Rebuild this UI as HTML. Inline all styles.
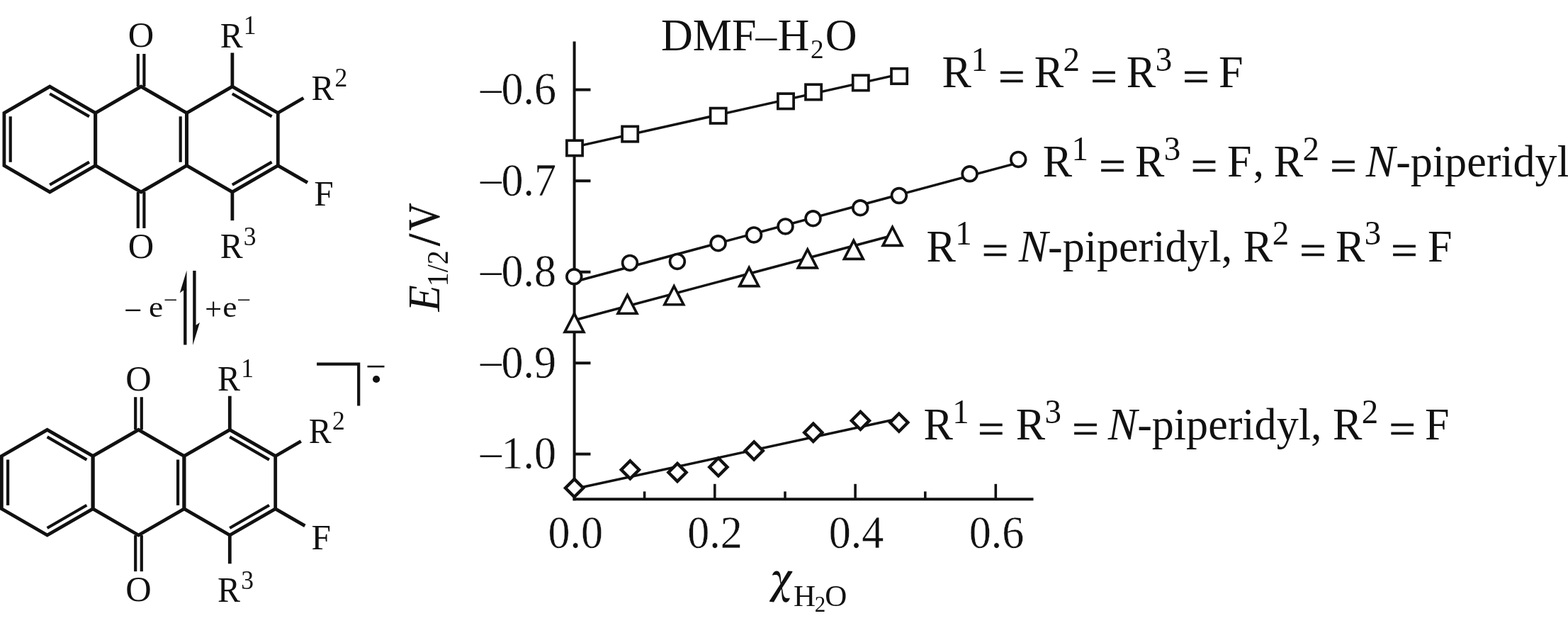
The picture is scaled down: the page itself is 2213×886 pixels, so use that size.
<!DOCTYPE html>
<html lang="en">
<head>
<meta charset="utf-8">
<title>Figure</title>
<style>
html,body{margin:0;padding:0;background:#fff;}
body{width:2213px;height:886px;overflow:hidden;}
svg{display:block;filter:blur(0.5px);}
text{font-family:"Liberation Serif", serif;white-space:pre;}
</style>
</head>
<body>
<svg width="2213" height="886" viewBox="0 0 2213 886" xml:space="preserve" role="img" aria-label="Anthraquinone radical anion equilibrium and plot of E1/2 versus water mole fraction in DMF-H2O">
<rect x="0" y="0" width="2213" height="886" fill="#fff"/>
<g stroke="#111" fill="none" stroke-linejoin="miter" stroke-linecap="butt">
<polygon points="70.30,122.10 134.70,159.30 134.70,233.70 70.30,270.90 5.90,233.70 5.90,159.30" stroke-width="4.8"/>
<polygon points="199.10,122.10 263.50,159.30 263.50,233.70 199.10,270.90 134.70,233.70 134.70,159.30" stroke-width="4.8"/>
<polygon points="327.90,122.10 392.30,159.30 392.30,233.70 327.90,270.90 263.50,233.70 263.50,159.30" stroke-width="4.8"/>
<line x1="70.21" y1="132.21" x2="125.98" y2="164.43" stroke-width="4.2" stroke-linecap="butt"/>
<line x1="125.98" y1="228.57" x2="70.21" y2="260.79" stroke-width="4.2" stroke-linecap="butt"/>
<line x1="14.70" y1="228.72" x2="14.70" y2="164.28" stroke-width="4.2" stroke-linecap="butt"/>
<line x1="254.70" y1="164.28" x2="254.70" y2="228.72" stroke-width="4.2" stroke-linecap="butt"/>
<line x1="327.81" y1="132.21" x2="383.58" y2="164.43" stroke-width="4.2" stroke-linecap="butt"/>
<line x1="383.58" y1="228.57" x2="327.81" y2="260.79" stroke-width="4.2" stroke-linecap="butt"/>
<line x1="194.80" y1="122.10" x2="194.80" y2="76.00" stroke-width="4.2" stroke-linecap="butt"/>
<line x1="203.40" y1="122.10" x2="203.40" y2="76.00" stroke-width="4.2" stroke-linecap="butt"/>
<line x1="194.80" y1="270.90" x2="194.80" y2="322.00" stroke-width="4.2" stroke-linecap="butt"/>
<line x1="203.40" y1="270.90" x2="203.40" y2="322.00" stroke-width="4.2" stroke-linecap="butt"/>
<line x1="327.90" y1="122.10" x2="327.90" y2="74.50" stroke-width="4.8" stroke-linecap="butt"/>
<line x1="327.90" y1="270.90" x2="327.90" y2="311.10" stroke-width="4.8" stroke-linecap="butt"/>
<line x1="392.30" y1="159.30" x2="428.40" y2="138.30" stroke-width="4.8" stroke-linecap="butt"/>
<line x1="392.30" y1="233.70" x2="434.00" y2="257.70" stroke-width="4.8" stroke-linecap="butt"/>
</g>
<g fill="#111" style="font-family:'Liberation Serif', serif">
<text transform="translate(199.10,66.30)" text-anchor="middle" style="font-size:50.5px;" >O</text>
<text transform="translate(199.10,364.10)" text-anchor="middle" style="font-size:50.5px;" >O</text>
<text transform="translate(310.70,67.00) scale(0.95,1)" text-anchor="start" style="font-size:50.5px;" >R<tspan dy="-19.4" dx="1.2" style="font-size:37.5px">1</tspan></text>
<text transform="translate(439.40,141.00) scale(0.95,1)" text-anchor="start" style="font-size:50.5px;" >R<tspan dy="-19.4" dx="1.2" style="font-size:37.5px">2</tspan></text>
<text transform="translate(310.70,364.30) scale(0.95,1)" text-anchor="start" style="font-size:50.5px;" >R<tspan dy="-18.0" dx="1.2" style="font-size:37.5px">3</tspan></text>
<text transform="translate(443.20,290.30) scale(0.9784999999999999,1)" text-anchor="start" style="font-size:50.5px;" >F</text>
</g>
<g stroke="#111" fill="none" stroke-linejoin="miter" stroke-linecap="butt">
<polygon points="66.70,606.30 131.10,643.50 131.10,717.90 66.70,755.10 2.30,717.90 2.30,643.50" stroke-width="4.8"/>
<polygon points="195.50,606.30 259.90,643.50 259.90,717.90 195.50,755.10 131.10,717.90 131.10,643.50" stroke-width="4.8"/>
<polygon points="324.30,606.30 388.70,643.50 388.70,717.90 324.30,755.10 259.90,717.90 259.90,643.50" stroke-width="4.8"/>
<line x1="66.61" y1="616.41" x2="122.38" y2="648.63" stroke-width="4.2" stroke-linecap="butt"/>
<line x1="122.38" y1="712.77" x2="66.61" y2="744.99" stroke-width="4.2" stroke-linecap="butt"/>
<line x1="11.10" y1="712.92" x2="11.10" y2="648.48" stroke-width="4.2" stroke-linecap="butt"/>
<line x1="251.10" y1="648.48" x2="251.10" y2="712.92" stroke-width="4.2" stroke-linecap="butt"/>
<line x1="324.21" y1="616.41" x2="379.98" y2="648.63" stroke-width="4.2" stroke-linecap="butt"/>
<line x1="379.98" y1="712.77" x2="324.21" y2="744.99" stroke-width="4.2" stroke-linecap="butt"/>
<line x1="191.20" y1="606.30" x2="191.20" y2="560.20" stroke-width="4.2" stroke-linecap="butt"/>
<line x1="199.80" y1="606.30" x2="199.80" y2="560.20" stroke-width="4.2" stroke-linecap="butt"/>
<line x1="191.20" y1="755.10" x2="191.20" y2="806.20" stroke-width="4.2" stroke-linecap="butt"/>
<line x1="199.80" y1="755.10" x2="199.80" y2="806.20" stroke-width="4.2" stroke-linecap="butt"/>
<line x1="324.30" y1="606.30" x2="324.30" y2="558.70" stroke-width="4.8" stroke-linecap="butt"/>
<line x1="324.30" y1="755.10" x2="324.30" y2="795.30" stroke-width="4.8" stroke-linecap="butt"/>
<line x1="388.70" y1="643.50" x2="424.80" y2="622.50" stroke-width="4.8" stroke-linecap="butt"/>
<line x1="388.70" y1="717.90" x2="430.40" y2="741.90" stroke-width="4.8" stroke-linecap="butt"/>
</g>
<g fill="#111" style="font-family:'Liberation Serif', serif">
<text transform="translate(195.50,550.50)" text-anchor="middle" style="font-size:50.5px;" >O</text>
<text transform="translate(195.50,848.30)" text-anchor="middle" style="font-size:50.5px;" >O</text>
<text transform="translate(307.10,551.20) scale(0.95,1)" text-anchor="start" style="font-size:50.5px;" >R<tspan dy="-19.4" dx="1.2" style="font-size:37.5px">1</tspan></text>
<text transform="translate(435.80,625.20) scale(0.95,1)" text-anchor="start" style="font-size:50.5px;" >R<tspan dy="-19.4" dx="1.2" style="font-size:37.5px">2</tspan></text>
<text transform="translate(307.10,848.50) scale(0.95,1)" text-anchor="start" style="font-size:50.5px;" >R<tspan dy="-18.0" dx="1.2" style="font-size:37.5px">3</tspan></text>
<text transform="translate(439.60,774.50) scale(0.9784999999999999,1)" text-anchor="start" style="font-size:50.5px;" >F</text>
</g>
<g stroke="#111" fill="#111" stroke-linecap="butt">
<line x1="261.30" y1="409.00" x2="261.30" y2="486.50" stroke-width="4.4" stroke-linecap="butt"/>
<line x1="274.40" y1="381.90" x2="274.40" y2="459.40" stroke-width="4.4" stroke-linecap="butt"/>
<polygon stroke="none" points="263.5,381.5 253.8,413.3 259.1,409.6 263.5,409.6"/>
<polygon stroke="none" points="272.2,486.9 281.9,455.1 276.6,458.8 272.2,458.8"/>
<polyline fill="none" stroke-width="4.2" points="447.1,513.6 506.2,513.6 506.2,572.4"/>
<circle stroke="none" cx="531.1" cy="535.0" r="5.1"/>
<line x1="518.50" y1="517.10" x2="542.50" y2="517.10" stroke-width="2.6" stroke-linecap="butt"/>
</g>
<g fill="#111" style="font-family:'Liberation Serif', serif">
<text transform="translate(177.59,448.78) scale(0.9285,1.0909)" style="font-size:44px">–</text>
<text transform="translate(210.00,447.00) scale(1.06,1)" text-anchor="start" style="font-size:43px;" >e</text>
<text transform="translate(232.82,431.36) scale(0.9971,1.0000)" style="font-size:32px">–</text>
<text transform="translate(289.30,450.70) scale(0.96,1)" text-anchor="start" style="font-size:44px;" >+</text>
<text transform="translate(314.20,447.00) scale(1.06,1)" text-anchor="start" style="font-size:43px;" >e</text>
<text transform="translate(336.22,431.36) scale(0.9910,1.0000)" style="font-size:32px">–</text>
</g>
<g stroke="#111" fill="none" stroke-linecap="butt">
<line x1="810.60" y1="58.60" x2="810.60" y2="706.30" stroke-width="4.0" stroke-linecap="butt"/>
<line x1="808.60" y1="704.30" x2="1458.50" y2="704.30" stroke-width="4.0" stroke-linecap="butt"/>
<line x1="810.60" y1="126.60" x2="833.50" y2="126.60" stroke-width="4.0" stroke-linecap="butt"/>
<line x1="810.60" y1="255.20" x2="833.50" y2="255.20" stroke-width="4.0" stroke-linecap="butt"/>
<line x1="810.60" y1="383.70" x2="833.50" y2="383.70" stroke-width="4.0" stroke-linecap="butt"/>
<line x1="810.60" y1="512.20" x2="833.50" y2="512.20" stroke-width="4.0" stroke-linecap="butt"/>
<line x1="810.60" y1="640.60" x2="833.50" y2="640.60" stroke-width="4.0" stroke-linecap="butt"/>
<line x1="1008.80" y1="704.30" x2="1008.80" y2="682.80" stroke-width="3.6" stroke-linecap="butt"/>
<line x1="1207.10" y1="704.30" x2="1207.10" y2="682.80" stroke-width="3.6" stroke-linecap="butt"/>
<line x1="1405.30" y1="704.30" x2="1405.30" y2="682.80" stroke-width="3.6" stroke-linecap="butt"/>
<line x1="909.60" y1="704.30" x2="909.60" y2="693.40" stroke-width="3.6" stroke-linecap="butt"/>
<line x1="1108.00" y1="704.30" x2="1108.00" y2="693.40" stroke-width="3.6" stroke-linecap="butt"/>
<line x1="1305.80" y1="704.30" x2="1305.80" y2="693.40" stroke-width="3.6" stroke-linecap="butt"/>
</g>
<g stroke="#111" fill="none">
<line x1="810.60" y1="207.40" x2="1269.10" y2="104.90" stroke-width="3.5" stroke-linecap="butt"/>
<line x1="810.60" y1="397.50" x2="1437.20" y2="229.60" stroke-width="3.5" stroke-linecap="butt"/>
<line x1="810.60" y1="451.80" x2="1259.50" y2="332.20" stroke-width="3.5" stroke-linecap="butt"/>
<line x1="810.60" y1="689.80" x2="1268.80" y2="590.50" stroke-width="3.5" stroke-linecap="butt"/>
</g>
<g stroke="#111" fill="#fff" stroke-width="3.7" stroke-linejoin="miter" stroke-miterlimit="10">
<rect x="799.90" y="198.20" width="22.2" height="21.4"/>
<rect x="878.10" y="178.40" width="22.2" height="21.4"/>
<rect x="1002.60" y="152.60" width="22.2" height="21.4"/>
<rect x="1097.90" y="132.10" width="22.2" height="21.4"/>
<rect x="1137.00" y="119.20" width="22.2" height="21.4"/>
<rect x="1203.70" y="106.20" width="22.2" height="21.4"/>
<rect x="1258.00" y="96.80" width="22.2" height="21.4"/>
<circle cx="810.30" cy="390.30" r="10.4"/>
<circle cx="889.00" cy="370.90" r="10.4"/>
<circle cx="955.90" cy="368.90" r="10.4"/>
<circle cx="1013.60" cy="343.20" r="10.4"/>
<circle cx="1064.00" cy="331.40" r="10.4"/>
<circle cx="1108.50" cy="319.40" r="10.4"/>
<circle cx="1147.50" cy="308.20" r="10.4"/>
<circle cx="1214.20" cy="293.20" r="10.4"/>
<circle cx="1268.90" cy="276.00" r="10.4"/>
<circle cx="1368.60" cy="245.30" r="10.4"/>
<circle cx="1437.20" cy="224.90" r="10.4"/>
<polygon points="810.50,442.45 823.90,468.45 797.10,468.45"/>
<polygon points="885.50,416.25 898.90,442.25 872.10,442.25"/>
<polygon points="951.30,403.75 964.70,429.75 937.90,429.75"/>
<polygon points="1057.20,377.65 1070.60,403.65 1043.80,403.65"/>
<polygon points="1139.70,351.95 1153.10,377.95 1126.30,377.95"/>
<polygon points="1204.80,339.35 1218.20,365.35 1191.40,365.35"/>
<polygon points="1259.50,320.45 1272.90,346.45 1246.10,346.45"/>
<polygon stroke-width="4.4" points="810.60,675.90 823.20,688.50 810.60,701.10 798.00,688.50"/>
<polygon stroke-width="4.4" points="889.40,650.20 902.00,662.80 889.40,675.40 876.80,662.80"/>
<polygon stroke-width="4.4" points="956.00,653.90 968.60,666.50 956.00,679.10 943.40,666.50"/>
<polygon stroke-width="4.4" points="1013.90,646.30 1026.50,658.90 1013.90,671.50 1001.30,658.90"/>
<polygon stroke-width="4.4" points="1064.20,623.30 1076.80,635.90 1064.20,648.50 1051.60,635.90"/>
<polygon stroke-width="4.4" points="1147.80,597.60 1160.40,610.20 1147.80,622.80 1135.20,610.20"/>
<polygon stroke-width="4.4" points="1214.40,580.80 1227.00,593.40 1214.40,606.00 1201.80,593.40"/>
<polygon stroke-width="4.4" points="1268.80,583.50 1281.40,596.10 1268.80,608.70 1256.20,596.10"/>
</g>
<g fill="#111" style="font-family:'Liberation Serif', serif">
<text transform="translate(785.00,147.10) scale(0.948,1)" text-anchor="end" style="font-size:65.5px;stroke:#fff;stroke-width:0.4px;" >0.6</text>
<text transform="translate(678.02,141.82) scale(0.9089,0.7939)" style="font-size:65.5px">–</text>
<text transform="translate(785.00,275.70) scale(0.948,1)" text-anchor="end" style="font-size:65.5px;stroke:#fff;stroke-width:0.4px;" >0.7</text>
<text transform="translate(678.02,270.42) scale(0.9089,0.7939)" style="font-size:65.5px">–</text>
<text transform="translate(785.00,404.20) scale(0.948,1)" text-anchor="end" style="font-size:65.5px;stroke:#fff;stroke-width:0.4px;" >0.8</text>
<text transform="translate(678.02,398.92) scale(0.9089,0.7939)" style="font-size:65.5px">–</text>
<text transform="translate(785.00,532.70) scale(0.948,1)" text-anchor="end" style="font-size:65.5px;stroke:#fff;stroke-width:0.4px;" >0.9</text>
<text transform="translate(678.02,527.42) scale(0.9089,0.7939)" style="font-size:65.5px">–</text>
<text transform="translate(785.00,661.10) scale(0.948,1)" text-anchor="end" style="font-size:65.5px;stroke:#fff;stroke-width:0.4px;" >1.0</text>
<text transform="translate(678.02,655.82) scale(0.9089,0.7939)" style="font-size:65.5px">–</text>
<text transform="translate(812.30,772.70) scale(0.948,1)" text-anchor="middle" style="font-size:65.5px;stroke:#fff;stroke-width:0.4px;" >0.0</text>
<text transform="translate(1009.10,772.70) scale(0.948,1)" text-anchor="middle" style="font-size:65.5px;stroke:#fff;stroke-width:0.4px;" >0.2</text>
<text transform="translate(1208.60,772.70) scale(0.948,1)" text-anchor="middle" style="font-size:65.5px;stroke:#fff;stroke-width:0.4px;" >0.4</text>
<text transform="translate(1406.60,772.70) scale(0.948,1)" text-anchor="middle" style="font-size:65.5px;stroke:#fff;stroke-width:0.4px;" >0.6</text>
<text transform="translate(933.00,71.00) scale(0.97,1)" text-anchor="start" style="font-size:64px;" >DMF</text>
<text transform="translate(1066.62,68.12) scale(0.9059,0.7939)" style="font-size:65.5px">–</text>
<text transform="translate(1097.60,71.00) scale(0.97,1)" text-anchor="start" style="font-size:64px;" >H<tspan dy="11" dx="1.6" style="font-size:38.5px">2</tspan><tspan dy="-11" dx="2.2">O</tspan></text>
<text transform="translate(1329.60,123.30) scale(0.9776,1)" text-anchor="start" style="font-size:63.5px;" >R<tspan dy="-23.8" dx="-0.6" style="font-size:48px">1</tspan><tspan dy="23.8" dx="0.3"> </tspan><tspan dx="35.31"> </tspan>R<tspan dy="-23.8" dx="-0.6" style="font-size:48px">2</tspan><tspan dy="23.8" dx="0.3"> </tspan><tspan dx="35.31"> </tspan>R<tspan dy="-23.8" dx="-0.6" style="font-size:48px">3</tspan><tspan dy="23.8" dx="0.3"> </tspan><tspan dx="35.31"> </tspan>F</text>
<text transform="translate(1471.80,249.40) scale(0.9776,1)" text-anchor="start" style="font-size:63.5px;" >R<tspan dy="-23.8" dx="-0.6" style="font-size:48px">1</tspan><tspan dy="23.8" dx="0.3"> </tspan><tspan dx="35.31"> </tspan>R<tspan dy="-23.8" dx="-0.6" style="font-size:48px">3</tspan><tspan dy="23.8" dx="0.3"> </tspan><tspan dx="35.31"> </tspan>F<tspan dx="2">,</tspan><tspan dx="-2"> </tspan>R<tspan dy="-23.8" dx="-0.6" style="font-size:48px">2</tspan><tspan dy="23.8" dx="0.3"> </tspan><tspan dx="35.31"> </tspan><tspan style="font-style:italic">N</tspan><tspan dx="1">-piperidyl</tspan></text>
<text transform="translate(1307.50,368.70) scale(0.9776,1)" text-anchor="start" style="font-size:63.5px;" >R<tspan dy="-23.8" dx="-0.6" style="font-size:48px">1</tspan><tspan dy="23.8" dx="0.3"> </tspan><tspan dx="35.31"> </tspan><tspan style="font-style:italic">N</tspan>-piperidyl, R<tspan dy="-23.8" dx="-0.6" style="font-size:48px">2</tspan><tspan dy="23.8" dx="0.3"> </tspan><tspan dx="35.31"> </tspan>R<tspan dy="-23.8" dx="-0.6" style="font-size:48px">3</tspan><tspan dy="23.8" dx="0.3"> </tspan><tspan dx="35.31"> </tspan>F</text>
<text transform="translate(1303.50,620.30) scale(0.9776,1)" text-anchor="start" style="font-size:63.5px;" >R<tspan dy="-23.8" dx="-0.6" style="font-size:48px">1</tspan><tspan dy="23.8" dx="0.3"> </tspan><tspan dx="35.31"> </tspan>R<tspan dy="-23.8" dx="-0.6" style="font-size:48px">3</tspan><tspan dy="23.8" dx="0.3"> </tspan><tspan dx="35.31"> </tspan><tspan style="font-style:italic">N</tspan>-piperidyl, R<tspan dy="-23.8" dx="-0.6" style="font-size:48px">2</tspan><tspan dy="23.8" dx="0.3"> </tspan><tspan dx="35.31"> </tspan>F</text>
<text transform="translate(1409.10,127.50) scale(1.134,1)" style="font-size:58.6px;stroke:#111;stroke-width:0.75px">=</text>
<text transform="translate(1539.24,127.50) scale(1.134,1)" style="font-size:58.6px;stroke:#111;stroke-width:0.75px">=</text>
<text transform="translate(1669.37,127.50) scale(1.134,1)" style="font-size:58.6px;stroke:#111;stroke-width:0.75px">=</text>
<text transform="translate(1551.30,253.60) scale(1.134,1)" style="font-size:58.6px;stroke:#111;stroke-width:0.75px">=</text>
<text transform="translate(1680.64,253.60) scale(1.134,1)" style="font-size:58.6px;stroke:#111;stroke-width:0.75px">=</text>
<text transform="translate(1877.13,253.60) scale(1.134,1)" style="font-size:58.6px;stroke:#111;stroke-width:0.75px">=</text>
<text transform="translate(1385.80,372.90) scale(1.134,1)" style="font-size:58.6px;stroke:#111;stroke-width:0.75px">=</text>
<text transform="translate(1834.33,372.90) scale(1.134,1)" style="font-size:58.6px;stroke:#111;stroke-width:0.75px">=</text>
<text transform="translate(1963.26,372.90) scale(1.134,1)" style="font-size:58.6px;stroke:#111;stroke-width:0.75px">=</text>
<text transform="translate(1380.00,624.90) scale(1.134,1)" style="font-size:58.6px;stroke:#111;stroke-width:0.75px">=</text>
<text transform="translate(1513.14,624.90) scale(1.134,1)" style="font-size:58.6px;stroke:#111;stroke-width:0.75px">=</text>
<text transform="translate(1960.46,624.90) scale(1.134,1)" style="font-size:58.6px;stroke:#111;stroke-width:0.75px">=</text>
<text transform="translate(620.40,439.50) rotate(-90) scale(0.95,1)" text-anchor="start" style="font-size:64px;" ><tspan style="font-style:italic">E</tspan><tspan dy="11.8" dx="-2" style="font-size:42px">1/2</tspan><tspan dy="-11.8" dx="7" style="stroke:#111;stroke-width:1.1px">/</tspan></text>
<text transform="translate(620.40,325.30) rotate(-90) scale(0.84,1)" text-anchor="start" style="font-size:64px;stroke:#111;stroke-width:0.5px;" >V</text>
<text transform="translate(1085.7,837.0) skewX(-9) scale(0.865,1)" style="font-family:'Noto Serif CJK SC','Liberation Serif', serif;font-weight:700;font-size:57.5px">χ</text>
<text transform="translate(1119.90,855.30)" text-anchor="start" style="font-size:43px;" >H<tspan dy="7.6" dx="-1.3" style="font-size:31px">2</tspan><tspan dy="-7.6" dx="-0.9">O</tspan></text>
</g>
</svg>
</body>
</html>
